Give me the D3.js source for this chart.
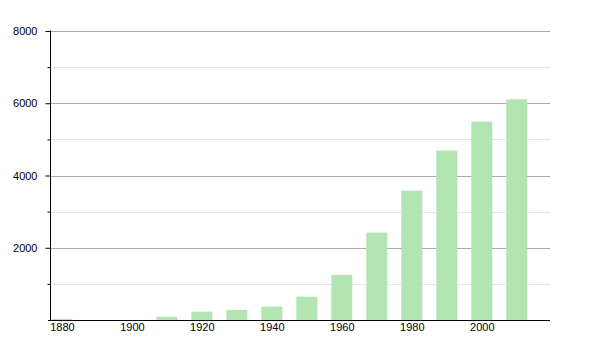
<!DOCTYPE html>
<html lang="en">
<head>
<meta charset="utf-8">
<title>Population</title>
<script src="https://cdn.jsdelivr.net/npm/d3@7"></script>
<style>
  body { margin: 0; background: #fff; }
  .axis text { font-family: "Liberation Sans", Arial, sans-serif; font-size: 11px; fill: #000; }
</style>
</head>
<body>
<script>
// data
var years  = [1880, 1890, 1900, 1910, 1920, 1930, 1940, 1950, 1960, 1970, 1980, 1990, 2000, 2010];
var values = [30, 0, 0, 90, 230, 280, 370, 645, 1250, 2420, 3580, 4690, 5490, 6110];
var xTicks = [1880, 1900, 1920, 1940, 1960, 1980, 2000];
var yMajor = [2000, 4000, 6000, 8000];
var yMinor = [1000, 3000, 5000, 7000];

var w = 600, h = 350;
var mLeft = 50, mRight = 550, mTop = 31, mBottom = 320;

var svg = d3.select("body").append("svg")
    .attr("width", w)
    .attr("height", h);

var x = d3.scaleLinear().domain([1876.6, 2019.5]).range([mLeft, mRight]);
var y = d3.scaleLinear().domain([0, 8000]).range([mBottom, mTop]);
var barW = 21;

// gridlines
svg.selectAll("line.minor")
    .data(yMinor).enter().append("line")
    .attr("class", "minor")
    .attr("x1", mLeft).attr("x2", mRight)
    .attr("y1", function(d) { return Math.round(y(d)) + 0.5; })
    .attr("y2", function(d) { return Math.round(y(d)) + 0.5; })
    .attr("stroke", "#e6e6e6");

svg.selectAll("line.major")
    .data(yMajor).enter().append("line")
    .attr("class", "major")
    .attr("x1", mLeft).attr("x2", mRight)
    .attr("y1", function(d) { return Math.round(y(d)) + 0.5; })
    .attr("y2", function(d) { return Math.round(y(d)) + 0.5; })
    .attr("stroke", "#aaaaaa");

// bars
svg.selectAll("rect.bar")
    .data(values).enter().append("rect")
    .attr("class", "bar")
    .attr("x", function(d, i) { return x(years[i]) - barW / 2; })
    .attr("y", function(d) { return y(d); })
    .attr("width", barW)
    .attr("height", function(d) { return mBottom - y(d); })
    .attr("fill", "#b3e5b3");

// y axis with minor ticks
var yAxis = svg.append("g")
    .attr("class", "axis")
    .attr("transform", "translate(" + (mLeft + 0.5) + ",0)")
    .call(d3.axisLeft(y).tickValues(yMajor).tickSize(5).tickPadding(8).tickFormat(d3.format("d")));
yAxis.select(".domain").attr("d", "M0," + (mTop - 0.5) + "V" + (mBottom + 0.5));

svg.append("g")
    .attr("transform", "translate(" + (mLeft + 0.5) + ",0)")
    .call(d3.axisLeft(y).tickValues(yMinor).tickSize(3).tickFormat(""))
    .call(function(g) { g.select(".domain").remove(); });

// x axis, labels only
var xAxis = svg.append("g")
    .attr("class", "axis")
    .attr("transform", "translate(0," + (mBottom + 0.5) + ")")
    .call(d3.axisBottom(x).tickValues(xTicks).tickSize(0).tickPadding(3).tickFormat(d3.format("d")));
xAxis.select(".domain").attr("d", "M" + (mLeft - 2) + ",0H" + mRight);
</script>
</body>
</html>
